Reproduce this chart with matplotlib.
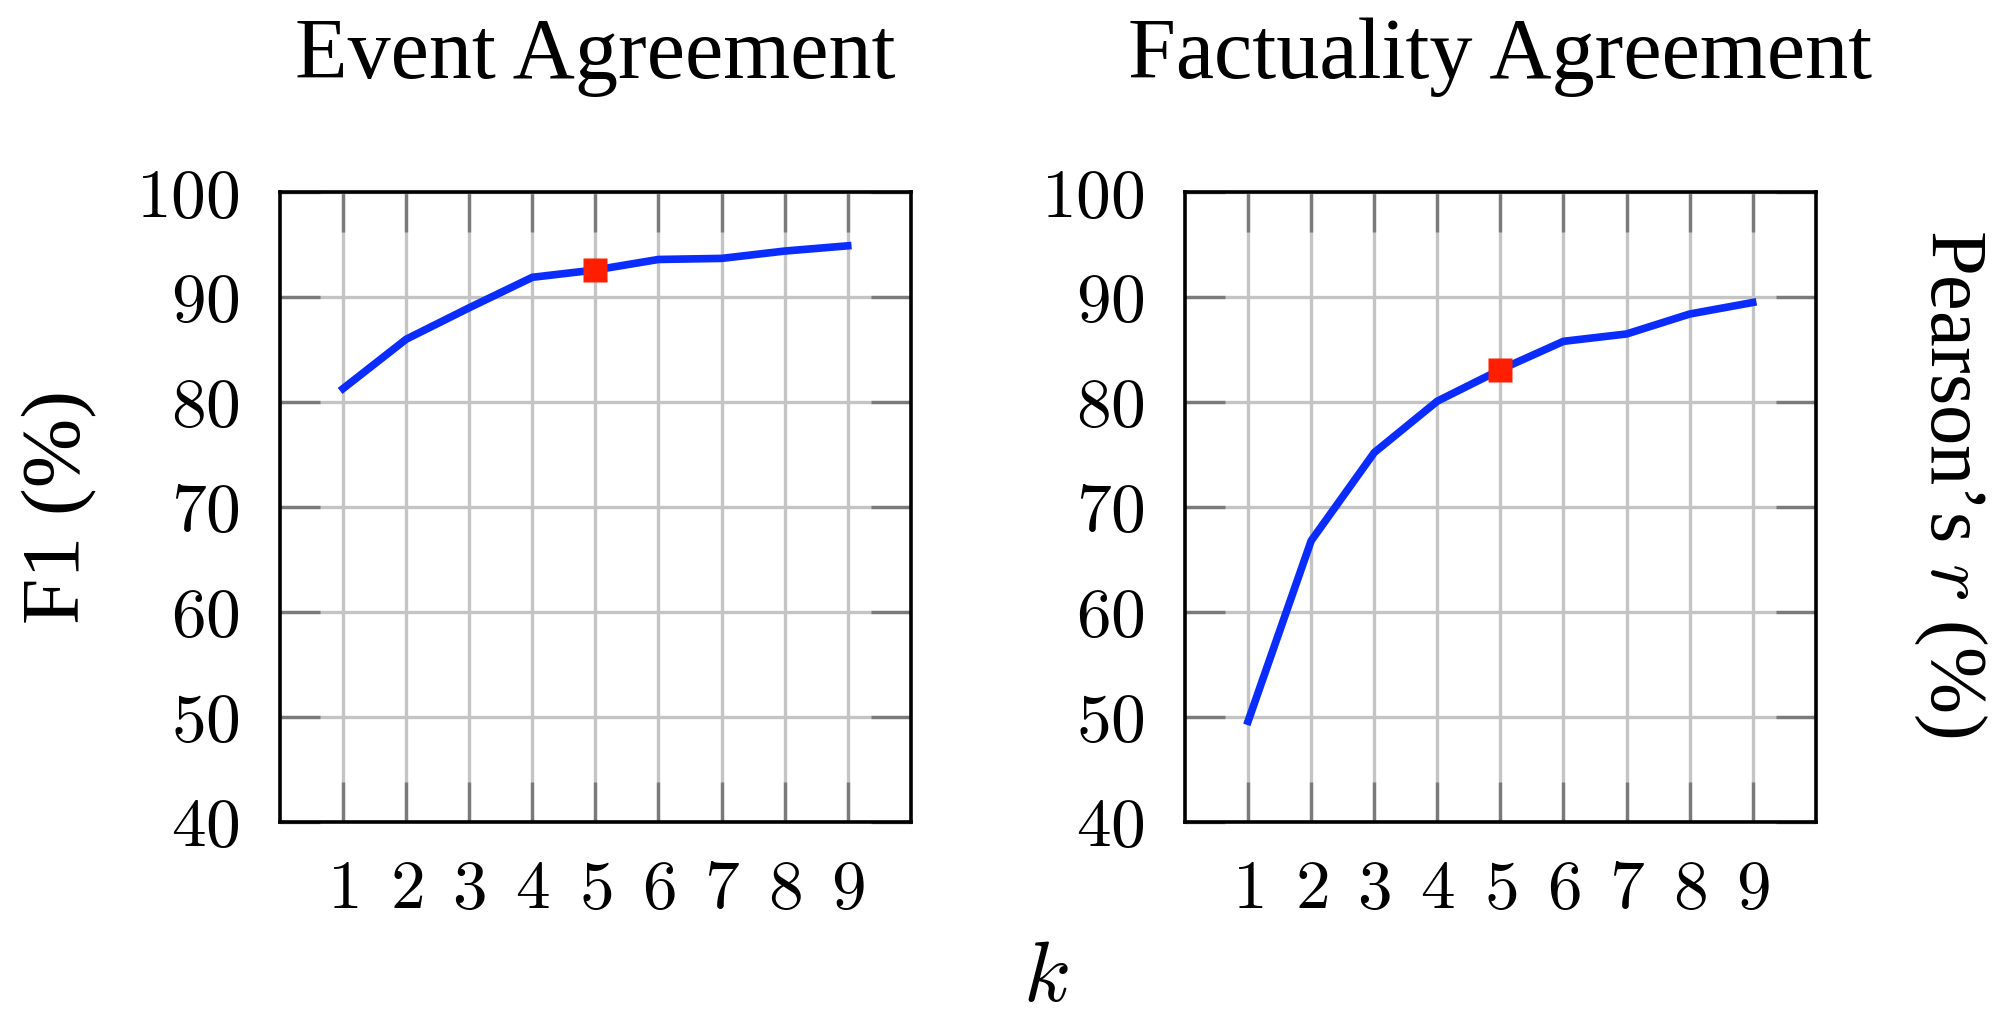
import matplotlib
matplotlib.use("Agg")
import matplotlib.pyplot as plt

plt.rcParams['font.family'] = ['Liberation Serif', 'DejaVu Serif']
plt.rcParams['mathtext.fontset'] = 'cm'

# Daten
k_values = [1, 2, 3, 4, 5, 6, 7, 8, 9]
event_f1 = [81.3, 86.0, 89.0, 91.9, 92.6, 93.6, 93.7, 94.4, 94.9]
fact_r = [49.6, 66.8, 75.2, 80.1, 83.1, 85.8, 86.5, 88.4, 89.5]
chosen_k = 5
titles = ['Event Agreement', 'Factuality Agreement']
y_ticks = [40, 50, 60, 70, 80, 90, 100]

fig = plt.figure(figsize=(19.96, 10.19), dpi=100)
ax1 = fig.add_axes([0.1403, 0.1933, 0.316, 0.618])
ax2 = fig.add_axes([0.5937, 0.1933, 0.316, 0.618])

for ax, vals, title in zip([ax1, ax2], [event_f1, fact_r], titles):
    ax.plot(k_values, vals, color='#0a2cff', lw=5.5, zorder=3)
    i = k_values.index(chosen_k)
    ax.plot([k_values[i]], [vals[i]], 's', color='#ff1f00', ms=17, mec='none', zorder=4)
    ax.set_xlim(0, 10)
    ax.set_ylim(40, 100)
    ax.set_xticks(k_values, labels=[f'${v}$' for v in k_values])
    ax.set_yticks(y_ticks, labels=[f'${v}$' for v in y_ticks])
    ax.grid(True, color='#c4c4c4', lw=2.4)
    ax.set_axisbelow(True)
    ax.tick_params(direction='in', top=True, right=True, length=29, width=2.4,
                   color='#7a7a7a', labelsize=50)
    ax.tick_params(axis='x', pad=27)
    ax.tick_params(axis='y', pad=29)
    for s in ax.spines.values():
        s.set_linewidth(2.6)
    ax.set_title(title, fontsize=62, pad=82)

ax1.set_ylabel('F1 (%)', fontsize=60, va='center')
ax1.yaxis.set_label_coords(-0.349, 0.5)
ax2.yaxis.set_label_position('right')
ax2.set_ylabel('Pearson’s $r$ (%)', fontsize=58, rotation=270, va='center')
ax2.yaxis.set_label_coords(1.213, 0.538)

fig.text(0.524, 0.038, '$k$', fontsize=62, ha='center', va='center')

fig.savefig('out.png', dpi=100)
